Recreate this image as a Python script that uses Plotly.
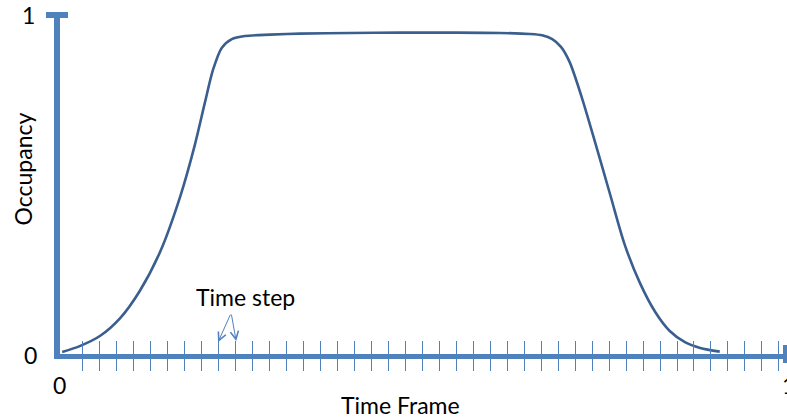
import plotly.graph_objects as go

# ---- data ----
time_frame = [0.003, 0.028, 0.055, 0.083, 0.110, 0.138, 0.166, 0.186, 0.200, 0.211,
              0.223, 0.237, 0.255, 0.290, 0.331, 0.400, 0.469, 0.538, 0.607, 0.648,
              0.665, 0.679, 0.691, 0.703, 0.720, 0.738, 0.759, 0.779, 0.800, 0.821,
              0.841, 0.862, 0.883, 0.910]
occupancy = [0.006, 0.024, 0.053, 0.106, 0.186, 0.301, 0.466, 0.617, 0.743, 0.838,
             0.903, 0.929, 0.938, 0.942, 0.945, 0.947, 0.948, 0.948, 0.947, 0.944,
             0.940, 0.929, 0.906, 0.861, 0.755, 0.625, 0.469, 0.322, 0.209, 0.124,
             0.068, 0.035, 0.018, 0.007]
x_tick_labels = ["0", "1"]
y_tick_labels = ["0", "1"]
tick_start = 0.0317
tick_step = 0.02341
tick_count = 42
time_steps = [tick_start + i * tick_step for i in range(tick_count)]

AXIS = "#4f81bd"
CURVE = "#3a5f8e"
FONT = "Lato"

fig = go.Figure()
fig.add_trace(go.Scatter(x=time_frame, y=occupancy, mode="lines",
                         line=dict(color=CURVE, width=2.6, shape="spline", smoothing=0.8),
                         hoverinfo="skip", showlegend=False))
# invisible trace on the overlaid axis for tick marks above the line
fig.add_trace(go.Scatter(x=[0, 1], y=[0, 0], xaxis="x2", mode="lines",
                         line=dict(width=0), opacity=0, showlegend=False, hoverinfo="skip"))

fig.update_layout(
    width=787, height=419,
    margin=dict(l=60, r=2, t=15, b=65),
    plot_bgcolor="white", paper_bgcolor="white",
    xaxis=dict(range=[0, 1], tickmode="array", tickvals=time_steps, ticks="outside",
               ticklen=12, tickwidth=1.3, tickcolor=AXIS, showticklabels=False,
               showgrid=False, zeroline=False, showline=True, linecolor=AXIS, linewidth=5),
    xaxis2=dict(range=[0, 1], overlaying="x", side="bottom", anchor="y",
                tickmode="array", tickvals=time_steps, ticks="inside",
                ticklen=13, tickwidth=1.3, tickcolor=AXIS, showticklabels=False,
                showgrid=False, zeroline=False, showline=False),
    yaxis=dict(range=[0, 1], showticklabels=False, ticks="", showgrid=False,
               zeroline=False, showline=True, linecolor=AXIS, linewidth=6),
    font=dict(family=FONT, size=23, color="#000000"),
)

# axis caps
fig.add_shape(type="line", xref="paper", yref="paper", x0=-14 / 725, x1=8 / 725, y0=1, y1=1,
              line=dict(color=AXIS, width=6))
fig.add_shape(type="line", xref="paper", yref="paper", x0=1, x1=1, y0=9 / 339, y1=-9 / 339,
              line=dict(color=AXIS, width=4))

C = dict(xanchor="center", yanchor="middle", showarrow=False)
ann = []
# tick labels
ann.append(dict(x=0, y=0, xref="paper", yref="paper", text=y_tick_labels[0],
                xshift=-30, yshift=-1, **C))
ann.append(dict(x=0, y=1, xref="paper", yref="paper", text=y_tick_labels[1],
                xshift=-32, yshift=0, **C))
ann.append(dict(x=0, y=0, xref="paper", yref="paper", text=x_tick_labels[0],
                xshift=-1, yshift=-31, **C))
ann.append(dict(x=1, y=0, xref="paper", yref="paper", text=x_tick_labels[1],
                xshift=3, yshift=-31, **C))
# axis titles
ann.append(dict(x=0, y=0.5, xref="paper", yref="paper", text="Occupancy",
                textangle=-90, xshift=-38, yshift=15, **C))
ann.append(dict(x=0.469, y=0, xref="paper", yref="paper", text="Time Frame",
                yshift=-51, **C))
# time step label and arrows
ann.append(dict(x=0.256, y=0.168, xref="x", yref="y", text="Time step", **C))
ann.append(dict(x=0.218, y=0.035, xref="x", yref="y", text="", showarrow=True,
                ax=13, ay=-29, arrowhead=5, arrowsize=1.6, arrowwidth=1, arrowcolor=AXIS))
ann.append(dict(x=0.243, y=0.038, xref="x", yref="y", text="", showarrow=True,
                ax=-5, ay=-28, arrowhead=5, arrowsize=1.6, arrowwidth=1, arrowcolor=AXIS))
fig.update_layout(annotations=ann)

fig.write_html("out.html", config={"displayModeBar": False},
               post_script="document.body.style.margin='0';")
